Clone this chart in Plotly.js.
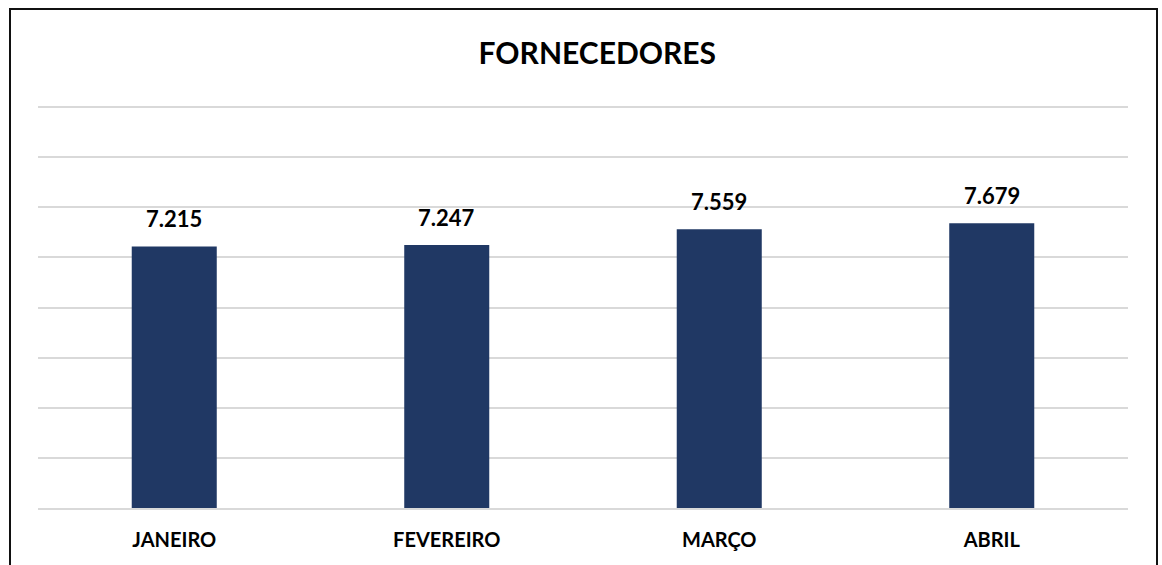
<!DOCTYPE html>
<html>
<head>
<meta charset="utf-8">
<script src="https://cdn.plot.ly/plotly-3.0.1.min.js"></script>
<style>
  html, body { margin: 0; padding: 0; background: #fff; }
  #wrap { position: relative; width: 1162px; height: 565px; overflow: hidden; }
  #chart { width: 1162px; height: 565px; }
  #frame { position: absolute; left: 9px; top: 8px; width: 1149px; height: 620px;
           border: 2px solid #111; pointer-events: none; box-sizing: border-box; }
</style>
</head>
<body>
<div id="wrap">
  <div id="chart"></div>
  <div id="frame"></div>
</div>
<script>
const categories = ["JANEIRO", "FEVEREIRO", "MARÇO", "ABRIL"];
const values = [7215, 7247, 7559, 7679];
const chartTitle = "FORNECEDORES";

function fmt(v) {
  return String(v).replace(/\B(?=(\d{3})+(?!\d))/g, ".");
}

const FONT = "Lato, 'Open Sans', sans-serif";

const trace = {
  type: "bar",
  x: categories,
  y: values,
  marker: { color: "#203864", line: { width: 0 } },
  hoverinfo: "skip"
};

const annotations = categories.map((c, i) => ({
  x: c, y: values[i], xref: "x", yref: "y",
  text: "<b>" + fmt(values[i]) + "</b>",
  showarrow: false, yanchor: "middle", yshift: 28,
  font: { family: FONT, size: 22, color: "#000" }
}));

const layout = {
  width: 1162, height: 565,
  paper_bgcolor: "#fff", plot_bgcolor: "#fff",
  margin: { l: 38, r: 34, t: 105, b: 57 },
  title: {
    text: "<b>" + chartTitle + "</b>",
    x: 0.514, xref: "container", xanchor: "center",
    y: 0.906, yref: "container", yanchor: "middle",
    font: { family: FONT, size: 30, color: "#000" }
  },
  bargap: 0.688,
  showlegend: false,
  xaxis: {
    type: "category",
    showgrid: false,
    showline: true, linecolor: "#d9d9d9", linewidth: 2,
    ticks: "", ticklabelstandoff: 13,
    tickfont: { family: FONT, size: 20, color: "#000", weight: "bold" },
    fixedrange: true
  },
  yaxis: {
    range: [2000, 10040],
    dtick: 1000, tick0: 0,
    showticklabels: false,
    showgrid: true, gridcolor: "#d9d9d9", gridwidth: 2,
    zeroline: false, showline: false, ticks: "",
    fixedrange: true
  },
  annotations: annotations
};

Plotly.newPlot("chart", [trace], layout, { displayModeBar: false, staticPlot: true });
</script>
</body>
</html>
